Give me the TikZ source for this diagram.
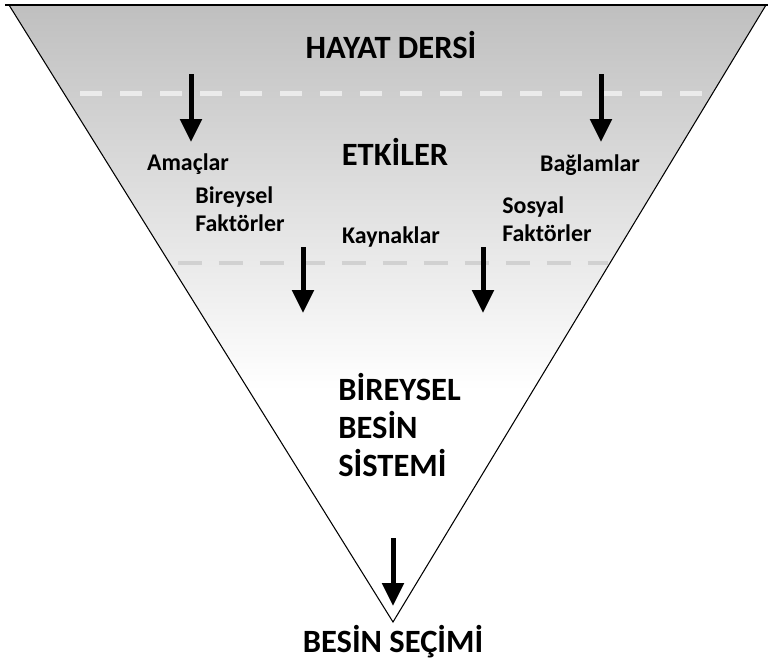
\documentclass[tikz,border=0pt]{standalone}
\usepackage{fontspec}
\setmainfont{Carlito}
\usetikzlibrary{arrows.meta}
\usetikzlibrary{positioning}

\begin{document}
\begin{tikzpicture}[x=0.02cm, y=-0.02cm,
			title/.style={font=\bfseries\fontsize{18.5}{21.5}\selectfont, inner sep=0pt},
			factor/.style={font=\bfseries\fontsize{13.6}{15.8}\selectfont, inner sep=0pt},
			down/.style={-{Triangle[length=0.46cm, width=0.42cm]}, line width=0.1cm},
			every text node part/.style={align=left}]
			\useasboundingbox (0,0) rectangle (768,664);
			
			\coordinate (tl) at (9,5);
			\coordinate (tr) at (766,5);
			\coordinate (apex) at (393,622);
			
			% funnel with grey shading
			\begin{scope}
			\clip (tl) -- (tr) -- (apex) -- cycle;
			\shade[top color=black!25, middle color=black!13, bottom color=white] (0,5) rectangle (768,390);
			\draw[white!92!black, line width=0.1cm, dash pattern=on 0.44cm off 0.36cm] (80,93) -- (712,93);
			\draw[black!18, line width=0.08cm, dash pattern=on 0.48cm off 0.34cm] (178,263) -- (608,263);
			\end{scope}
			\draw[line width=0.6pt] (tl) -- (apex) -- (tr);
			\draw[line width=1.6pt] (5,5) -- (768,5);
			
			\node[title](hayat) at (391,45) {HAYAT DERSİ};
			\node[title](etkiler) at (395,152) {ETKİLER};
			
			\node[factor](amac) at (188,164) {Amaçlar};
			\node[factor](baglam) at (590,165) {Bağlamlar};
			\node[factor, anchor=west](bireysel) at (195,209) {Bireysel \\ Faktörler};
			\node[factor](kaynak) at (391,237) {Kaynaklar};
			\node[factor, anchor=west](sosyal) at (502,219) {Sosyal \\ Faktörler};
			
			\node[title, anchor=west](sistem) at (338,425) {BİREYSEL \\ BESİN \\ SİSTEMİ};
			\node[title, anchor=base](secim) at (393,652) {BESİN SEÇİMİ};
			
			% arrows
			\coordinate (a1) at (191,74);  \coordinate (b1) at (191,142);
			\coordinate (a2) at (601,74);  \coordinate (b2) at (601,142);
			\coordinate (a3) at (303,247); \coordinate (b3) at (303,313);
			\coordinate (a4) at (483,247); \coordinate (b4) at (483,313);
			\coordinate (a5) at (393,538); \coordinate (b5) at (393,606);
			\foreach \i in {1,...,5}
				\draw[down] (a\i) -- (b\i);
			\end{tikzpicture}
\end{document}
